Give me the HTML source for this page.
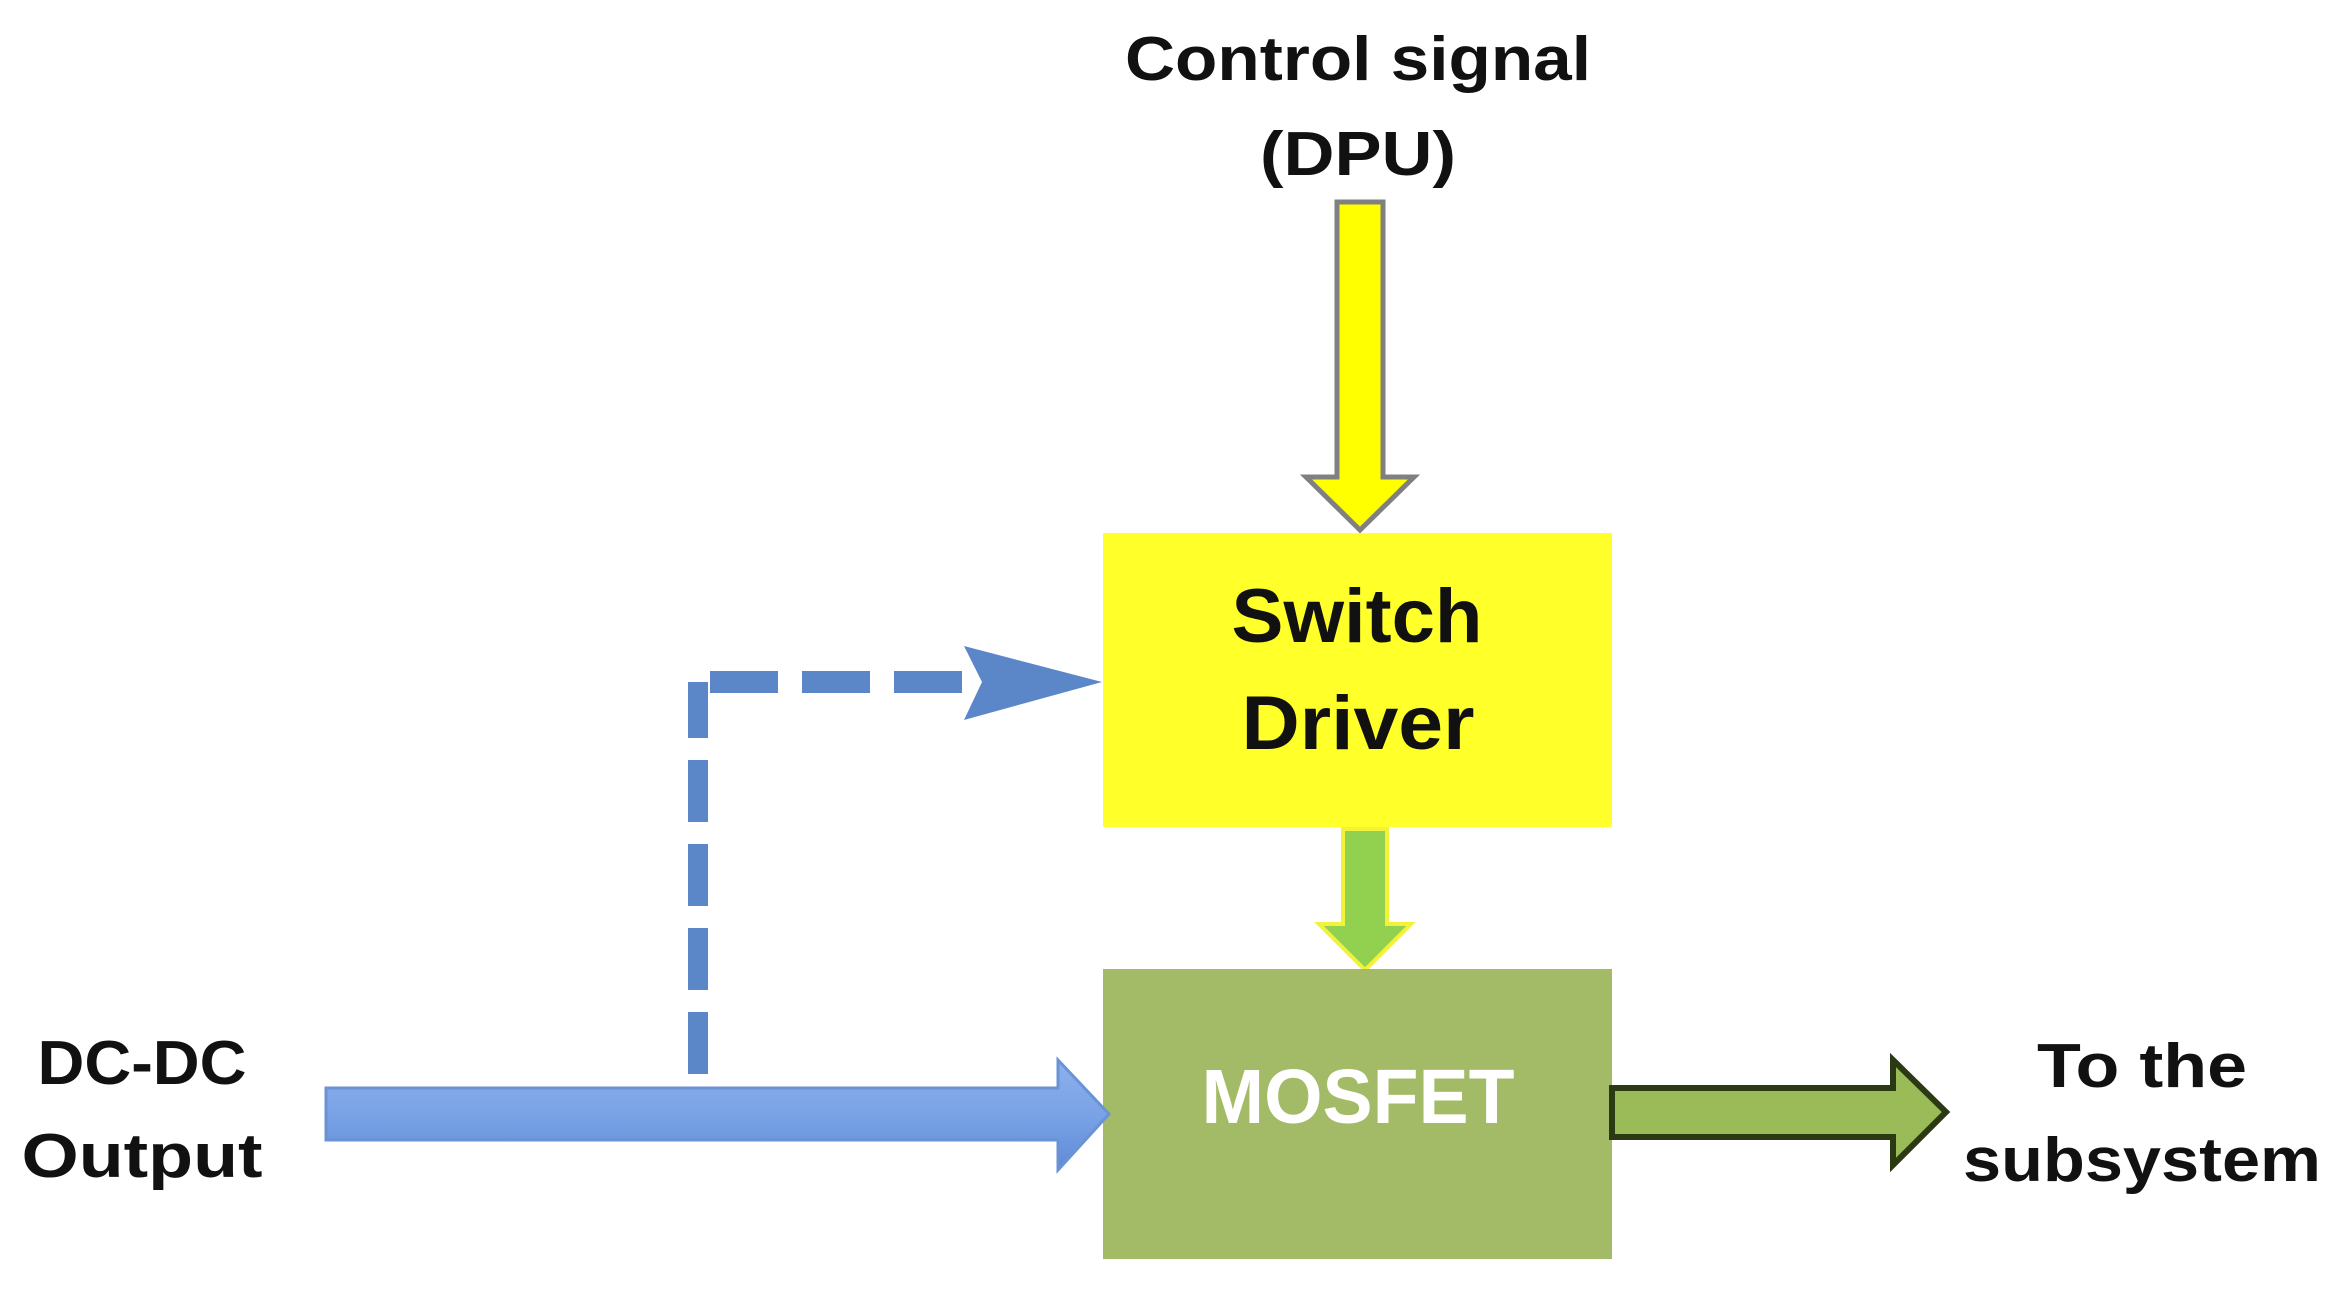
<!DOCTYPE html>
<html><head><meta charset="utf-8"><style>
html,body{margin:0;padding:0;background:#fff;}
svg{display:block;}
text{font-family:"Liberation Sans",sans-serif;font-weight:bold;}
</style></head><body>
<svg width="2336" height="1294" viewBox="0 0 2336 1294" xmlns="http://www.w3.org/2000/svg">
<defs>
<linearGradient id="bl" x1="0" y1="0" x2="0" y2="1">
<stop offset="0" stop-color="#8cb0ec"/><stop offset="0.5" stop-color="#7aa3e6"/><stop offset="1" stop-color="#5f8ad4"/>
</linearGradient>
</defs>
<rect width="2336" height="1294" fill="#fff"/>

<!-- Control signal text -->
<text x="1358" y="80" font-size="62" text-anchor="middle" textLength="466" lengthAdjust="spacingAndGlyphs" fill="#111">Control signal</text>
<text x="1358" y="175" font-size="62" text-anchor="middle" textLength="196" lengthAdjust="spacingAndGlyphs" fill="#111">(DPU)</text>

<!-- yellow down arrow -->
<polygon points="1337,202 1383,202 1383,477 1414,477 1360,530 1306,477 1337,477" fill="#ffff00" stroke="#808080" stroke-width="5" stroke-linejoin="miter"/>

<!-- Switch driver box -->
<rect x="1103" y="533" width="509" height="294" fill="#ffff2a"/>
<text x="1357" y="642" font-size="76" text-anchor="middle" textLength="251" lengthAdjust="spacingAndGlyphs" fill="#111">Switch</text>
<text x="1358" y="749" font-size="76" text-anchor="middle" textLength="233" lengthAdjust="spacingAndGlyphs" fill="#111">Driver</text>

<!-- green down arrow -->
<polygon points="1343,829 1387,829 1387,924 1411,924 1365,970 1319,924 1343,924" fill="#92d050" stroke="#f2f23a" stroke-width="4"/>

<!-- MOSFET box -->
<rect x="1103" y="969" width="509" height="290" fill="#a3bb67"/>
<text x="1358" y="1123" font-size="77" text-anchor="middle" textLength="313" lengthAdjust="spacingAndGlyphs" fill="#fff">MOSFET</text>

<!-- blue main arrow -->
<polygon points="326,1088 1058,1088 1058,1060 1109,1114 1058,1170 1058,1140 326,1140" fill="url(#bl)" stroke="#6a93d6" stroke-width="3"/>

<!-- dashed feedback -->
<line x1="698" y1="1074" x2="698" y2="682" stroke="#5b87c9" stroke-width="20" stroke-dasharray="62,22"/>
<line x1="710" y1="682" x2="968" y2="682" stroke="#5b87c9" stroke-width="22" stroke-dasharray="68,24"/>
<polygon points="964,646 1102,682 964,720 982,682" fill="#5b87c9"/>

<!-- output arrow -->
<polygon points="1612,1088 1893,1088 1893,1060 1946,1112 1893,1165 1893,1137 1612,1137" fill="#9bbb59" stroke="#2b3a12" stroke-width="6"/>

<!-- Left label -->
<text x="142" y="1084" font-size="62" text-anchor="middle" textLength="209" lengthAdjust="spacingAndGlyphs" fill="#111">DC-DC</text>
<text x="142" y="1177" font-size="62" text-anchor="middle" textLength="241" lengthAdjust="spacingAndGlyphs" fill="#111">Output</text>

<!-- Right label -->
<text x="2142" y="1087" font-size="62" text-anchor="middle" textLength="210" lengthAdjust="spacingAndGlyphs" fill="#111">To the</text>
<text x="2142" y="1181" font-size="62" text-anchor="middle" textLength="358" lengthAdjust="spacingAndGlyphs" fill="#111">subsystem</text>
</svg>
</body></html>
